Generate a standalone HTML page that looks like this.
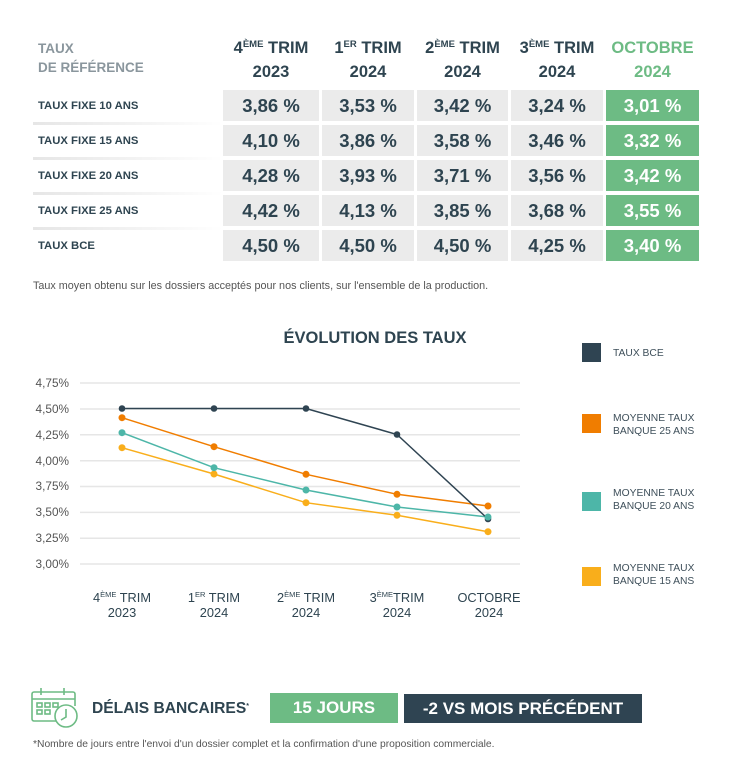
<!DOCTYPE html>
<html><head><meta charset="utf-8">
<style>
*{margin:0;padding:0;box-sizing:border-box}
body{width:755px;height:762px;background:#fff;position:relative;font-family:"Liberation Sans",sans-serif;color:#2e4450;overflow:hidden}
.a{position:absolute}
.hd{position:absolute;text-align:center;font-weight:bold;font-size:16.5px;line-height:24px;color:#2e4450}
.hd sup{font-size:9.5px;vertical-align:top;position:relative;top:-3px}
.cell{position:absolute;height:31px;background:#ebebeb;text-align:center;font-weight:bold;font-size:18.5px;line-height:31px;color:#2e4450}
.cell.g{background:#6dbb84;color:#fff}
.lbl{position:absolute;left:38px;font-weight:bold;font-size:11.3px;line-height:31px;color:#2e4450}
.sep{position:absolute;left:33px;width:190px;height:3px;background:linear-gradient(to right,#e6e6e6,#f4f4f4 60%,rgba(255,255,255,0))}
.note{position:absolute;color:#555}
.leg{position:absolute;left:613px;font-size:10.3px;line-height:13px;color:#3e4f5a}
.sq{position:absolute;left:582px;width:19px;height:19px}
</style></head><body>

<div class="a" style="left:38px;top:39px;font-weight:bold;font-size:13.5px;line-height:19px;color:#8a969d">TAUX<br>DE RÉFÉRENCE</div>

<div class="hd" style="left:223px;width:96px;top:36px">4<sup>ÈME</sup> TRIM<br>2023</div>
<div class="hd" style="left:322px;width:92px;top:36px">1<sup>ER</sup> TRIM<br>2024</div>
<div class="hd" style="left:417px;width:91px;top:36px">2<sup>ÈME</sup> TRIM<br>2024</div>
<div class="hd" style="left:511px;width:92px;top:36px">3<sup>ÈME</sup> TRIM<br>2024</div>
<div class="hd" style="left:606px;width:93px;top:36px;color:#6dbb84">OCTOBRE<br>2024</div>

<div class="lbl" style="top:91px">TAUX FIXE 10 ANS</div>
<div class="lbl" style="top:126px">TAUX FIXE 15 ANS</div>
<div class="lbl" style="top:161px">TAUX FIXE 20 ANS</div>
<div class="lbl" style="top:196px">TAUX FIXE 25 ANS</div>
<div class="lbl" style="top:231px">TAUX BCE</div>
<div class="sep" style="top:122px"></div>
<div class="sep" style="top:157px"></div>
<div class="sep" style="top:192px"></div>
<div class="sep" style="top:227px"></div>

<!-- row 1 -->
<div class="cell" style="left:223px;width:96px;top:90px">3,86 %</div>
<div class="cell" style="left:322px;width:92px;top:90px">3,53 %</div>
<div class="cell" style="left:417px;width:91px;top:90px">3,42 %</div>
<div class="cell" style="left:511px;width:92px;top:90px">3,24 %</div>
<div class="cell g" style="left:606px;width:93px;top:90px">3,01 %</div>
<!-- row 2 -->
<div class="cell" style="left:223px;width:96px;top:125px">4,10 %</div>
<div class="cell" style="left:322px;width:92px;top:125px">3,86 %</div>
<div class="cell" style="left:417px;width:91px;top:125px">3,58 %</div>
<div class="cell" style="left:511px;width:92px;top:125px">3,46 %</div>
<div class="cell g" style="left:606px;width:93px;top:125px">3,32 %</div>
<!-- row 3 -->
<div class="cell" style="left:223px;width:96px;top:160px">4,28 %</div>
<div class="cell" style="left:322px;width:92px;top:160px">3,93 %</div>
<div class="cell" style="left:417px;width:91px;top:160px">3,71 %</div>
<div class="cell" style="left:511px;width:92px;top:160px">3,56 %</div>
<div class="cell g" style="left:606px;width:93px;top:160px">3,42 %</div>
<!-- row 4 -->
<div class="cell" style="left:223px;width:96px;top:195px">4,42 %</div>
<div class="cell" style="left:322px;width:92px;top:195px">4,13 %</div>
<div class="cell" style="left:417px;width:91px;top:195px">3,85 %</div>
<div class="cell" style="left:511px;width:92px;top:195px">3,68 %</div>
<div class="cell g" style="left:606px;width:93px;top:195px">3,55 %</div>
<!-- row 5 -->
<div class="cell" style="left:223px;width:96px;top:230px">4,50 %</div>
<div class="cell" style="left:322px;width:92px;top:230px">4,50 %</div>
<div class="cell" style="left:417px;width:91px;top:230px">4,50 %</div>
<div class="cell" style="left:511px;width:92px;top:230px">4,25 %</div>
<div class="cell g" style="left:606px;width:93px;top:230px">3,40 %</div>

<div class="note" style="left:33px;top:280px;font-size:10.8px">Taux moyen obtenu sur les dossiers acceptés pour nos clients, sur l'ensemble de la production.</div>

<div class="a" style="left:220px;width:310px;top:329px;text-align:center;font-weight:bold;font-size:16.5px;color:#2e4450">ÉVOLUTION DES TAUX</div>

<svg class="a" style="left:0;top:0" width="755" height="762">
  <g stroke="#e6e6e6" stroke-width="1.5">
    <line x1="80" x2="520" y1="383" y2="383"/>
    <line x1="80" x2="520" y1="409" y2="409"/>
    <line x1="80" x2="520" y1="434.8" y2="434.8"/>
    <line x1="80" x2="520" y1="460.7" y2="460.7"/>
    <line x1="80" x2="520" y1="486.5" y2="486.5"/>
    <line x1="80" x2="520" y1="512.4" y2="512.4"/>
    <line x1="80" x2="520" y1="538.2" y2="538.2"/>
    <line x1="80" x2="520" y1="564" y2="564"/>
  </g>
  <g font-family="Liberation Sans, sans-serif" font-size="11.8" fill="#555" text-anchor="end">
    <text x="69" y="387">4,75%</text>
    <text x="69" y="413">4,50%</text>
    <text x="69" y="439">4,25%</text>
    <text x="69" y="465">4,00%</text>
    <text x="69" y="490">3,75%</text>
    <text x="69" y="516">3,50%</text>
    <text x="69" y="542">3,25%</text>
    <text x="69" y="568">3,00%</text>
  </g>
  <!-- yellow -->
  <g stroke="#f9ae1b" fill="#f9ae1b">
    <polyline fill="none" stroke-width="1.5" points="122,447.7 214,474 306,502.7 397,515.3 488,531.7"/>
    <circle cx="122" cy="447.7" r="3.5" stroke="none"/><circle cx="214" cy="474" r="3.5" stroke="none"/><circle cx="306" cy="502.7" r="3.5" stroke="none"/><circle cx="397" cy="515.3" r="3.5" stroke="none"/><circle cx="488" cy="531.7" r="3.5" stroke="none"/>
  </g>
  <!-- teal -->
  <g stroke="#4db6a8" fill="#4db6a8">
    <polyline fill="none" stroke-width="1.5" points="122,432.7 214,467.7 306,490 397,507 488,517"/>
    <circle cx="122" cy="432.7" r="3.5" stroke="none"/><circle cx="214" cy="467.7" r="3.5" stroke="none"/><circle cx="306" cy="490" r="3.5" stroke="none"/><circle cx="397" cy="507" r="3.5" stroke="none"/>
  </g>
  <!-- orange -->
  <g stroke="#f07d00" fill="#f07d00">
    <polyline fill="none" stroke-width="1.5" points="122,417.7 214,446.7 306,474.3 397,494.3 488,506"/>
    <circle cx="122" cy="417.7" r="3.5" stroke="none"/><circle cx="214" cy="446.7" r="3.5" stroke="none"/><circle cx="306" cy="474.3" r="3.5" stroke="none"/><circle cx="397" cy="494.3" r="3.5" stroke="none"/><circle cx="488" cy="506" r="3.5" stroke="none"/>
  </g>
  <!-- BCE -->
  <g stroke="#2f4452" fill="#2f4452">
    <polyline fill="none" stroke-width="1.5" points="122,408.5 214,408.5 306,408.5 397,434.5 488,519"/>
    <circle cx="122" cy="408.5" r="3.3" stroke="none"/><circle cx="214" cy="408.5" r="3.3" stroke="none"/><circle cx="306" cy="408.5" r="3.3" stroke="none"/><circle cx="397" cy="434.5" r="3.3" stroke="none"/><circle cx="488" cy="519" r="3.3" stroke="none"/>
  </g>
  <circle cx="488" cy="517" r="3.5" fill="#4db6a8"/>
  <g font-family="Liberation Sans, sans-serif" font-size="12.8" fill="#2e4450" text-anchor="middle">
    <text x="122" y="602">4<tspan font-size="7.5" dy="-5">ÈME</tspan><tspan dy="5"> TRIM</tspan></text>
    <text x="122" y="617">2023</text>
    <text x="214" y="602">1<tspan font-size="7.5" dy="-5">ER</tspan><tspan dy="5"> TRIM</tspan></text>
    <text x="214" y="617">2024</text>
    <text x="306" y="602">2<tspan font-size="7.5" dy="-5">ÈME</tspan><tspan dy="5"> TRIM</tspan></text>
    <text x="306" y="617">2024</text>
    <text x="397" y="602">3<tspan font-size="7.5" dy="-5">ÈME</tspan><tspan dy="5">TRIM</tspan></text>
    <text x="397" y="617">2024</text>
    <text x="489" y="602">OCTOBRE</text>
    <text x="489" y="617">2024</text>
  </g>
  <!-- calendar icon -->
  <g fill="none" stroke="#6dbb84" stroke-width="1.6">
    <path d="M56,721 H34 a2,2 0 0 1 -2,-2 V694 a2,2 0 0 1 2,-2 H73 a2,2 0 0 1 2,2 V706"/>
    <line x1="32" y1="699" x2="75" y2="699"/>
    <line x1="41" y1="688" x2="41" y2="695"/>
    <line x1="64" y1="688" x2="64" y2="695"/>
    <rect x="37" y="703" width="5" height="4"/><rect x="45" y="703" width="5" height="4"/><rect x="53" y="703" width="5" height="4"/>
    <rect x="37" y="710" width="5" height="4"/><rect x="45" y="710" width="5" height="4"/>
    <circle cx="66" cy="716" r="11" fill="#fff"/>
    <polyline points="66,709 66,717 61,720"/>
  </g>
</svg>

<div class="sq" style="top:343px;background:#2f4452"></div>
<div class="leg" style="top:347px">TAUX BCE</div>
<div class="sq" style="top:414px;background:#f07d00"></div>
<div class="leg" style="top:412px">MOYENNE TAUX<br>BANQUE 25 ANS</div>
<div class="sq" style="top:492px;background:#4db6a8"></div>
<div class="leg" style="top:487px">MOYENNE TAUX<br>BANQUE 20 ANS</div>
<div class="sq" style="top:567px;background:#f9ae1b"></div>
<div class="leg" style="top:562px">MOYENNE TAUX<br>BANQUE 15 ANS</div>

<div class="a" style="left:92px;top:698px;font-weight:bold;font-size:15.6px;line-height:22px;color:#2e4450">DÉLAIS BANCAIRES<sup style="font-size:7px;vertical-align:top;position:relative;top:-2px">*</sup></div>
<div class="a" style="left:270px;top:693px;width:128px;height:30px;background:#6dbb84;color:#fff;font-weight:bold;font-size:17px;line-height:30px;text-align:center">15 JOURS</div>
<div class="a" style="left:404px;top:694px;width:238px;height:29px;background:#2f4452;color:#fff;font-weight:bold;font-size:17px;line-height:29px;text-align:center">-2 VS MOIS PRÉCÉDENT</div>

<div class="note" style="left:33px;top:739px;font-size:10.3px">*Nombre de jours entre l'envoi d'un dossier complet et la confirmation d'une proposition commerciale.</div>

</body></html>
